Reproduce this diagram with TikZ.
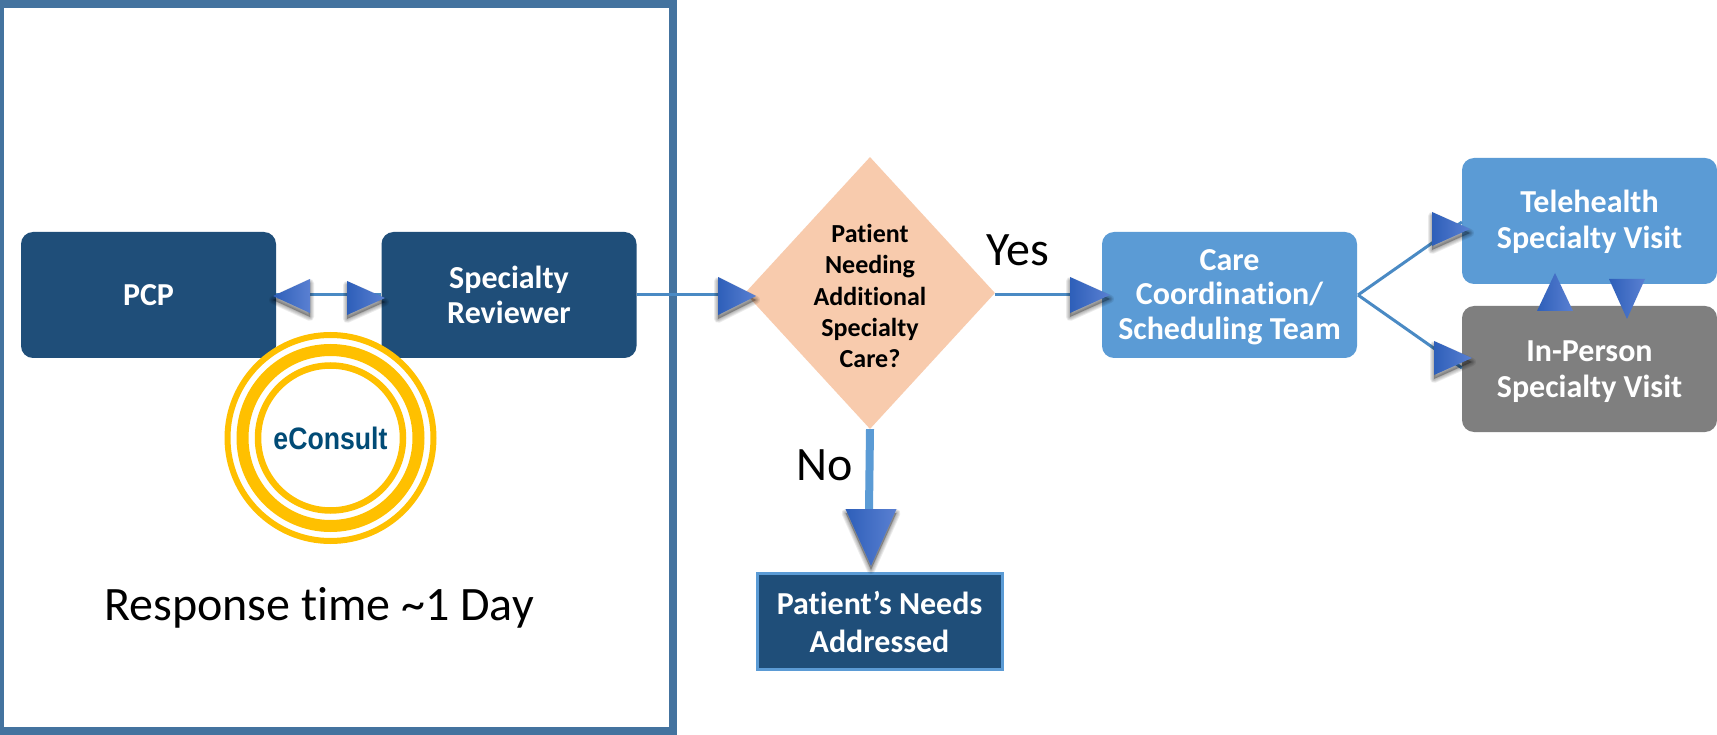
\documentclass[tikz,border=0pt]{standalone}
\usepackage{fontspec}
\setmainfont{Carlito}[Ligatures=NoCommon]
\newfontfamily\arialfont{Liberation Sans}[FakeStretch=0.86]
\usetikzlibrary{shapes.geometric}
\definecolor{navybox}{HTML}{1F4E79}
\definecolor{bluebox}{HTML}{5B9BD5}
\definecolor{greybox}{HTML}{7F7F7F}
\definecolor{peach}{HTML}{F8CBAD}
\definecolor{framecol}{HTML}{44739F}
\definecolor{goldring}{HTML}{FFC000}
\definecolor{linecol}{HTML}{4A8AC4}
\definecolor{tipdark}{HTML}{2E5FB9}
\definecolor{tiplight}{HTML}{5A80D2}
\definecolor{econcol}{HTML}{014B76}
\newcommand{\tipshadow}[4]{% tip, angle, length, half-width
  \foreach \k in {8,6,4,2}{
    \begin{scope}[shift={(#1)},xshift=0pt,yshift=-4pt,rotate=#2]
      \draw[black,opacity=.08,line width=\k pt,line join=round,fill=black]
        (0,0) -- (-#3,#4) -- (-#3,-#4) -- cycle;
    \end{scope}}}
\newcommand{\tipbody}[4]{%
  \begin{scope}[shift={(#1)},rotate=#2]
    \shade[left color=tipdark,right color=tiplight] (0,0) -- (-#3,#4) -- (-#3,-#4) -- cycle;
  \end{scope}}
\tikzset{
  x=1pt,y=-1pt,
  boxbase/.style={rounded corners=12pt,minimum width=255pt,minimum height=126pt,inner sep=0pt,
    text=white,align=center,font=\fontsize{32}{36}\selectfont\bfseries},
  navy/.style={boxbase,fill=navybox},
  lightblue/.style={boxbase,fill=bluebox},
  grey/.style={boxbase,fill=greybox},
  boxtext/.style={text=white,align=center,inner sep=0pt,font=\fontsize{32}{36}\selectfont\bfseries},
  conn/.style={draw=linecol,line width=3pt},
  biglabel/.style={font=\fontsize{48}{54}\selectfont,text=black,inner sep=0pt},
  ring/.style={draw=goldring,circle,inner sep=0pt}
}
\begin{document}
\begin{tikzpicture}
\useasboundingbox (0,0) rectangle (1717,735);
\fill[white] (0,0) rectangle (1717,735);
\draw[framecol,line width=8pt] (0,4) rectangle (673,731);

% nodes
\node[navy] (pcp) at (148.5,295) {PCP};
\node[navy] (spec) at (509,295) {Specialty\\[-1pt]Reviewer};
\node[diamond,fill=peach,minimum width=250pt,minimum height=272pt,inner sep=0pt,aspect=0.92,
  label={[font=\fontsize{26}{31.4}\selectfont\bfseries,align=center,text=black,yshift=-3pt]center:Patient\\Needing\\Additional\\Specialty\\Care?}]
  (dec) at (870,293) {};
\node[lightblue] (care) at (1229.5,295) {};
\node[boxtext,font=\fontsize{32}{34.5}\selectfont\bfseries] (caretext) at (1229.5,297) {Care\\Coordination/\\Scheduling Team};
\node[lightblue] (tele) at (1589.5,221) {};
\node[boxtext] (teletext) at (1589.5,222) {Telehealth\\Specialty Visit};
\node[grey] (person) at (1589.5,369) {};
\node[boxtext] (persontext) at (1589.5,371.5) {In-Person\\Specialty Visit};
\node[rectangle,fill=navybox,draw=bluebox,line width=3pt,minimum width=245pt,minimum height=96pt,inner sep=0pt,
  text=white,align=center,font=\fontsize{32}{38}\selectfont\bfseries] (needs) at (879.5,621.5) {Patient’s Needs\\Addressed};

% rings
\node[ring,fill=white,line width=6pt,minimum size=206pt] (r1) at (330.5,438) {};
\node[ring,line width=12pt,minimum size=176pt] (r2) at (r1) {};
\node[ring,line width=6.5pt,minimum size=145pt] (r3) at (r1) {};
\node[font=\arialfont\bfseries\fontsize{31}{34}\selectfont,text=econcol,inner sep=0pt] (econ) at (r1) {eConsult};

\node[font=\fontsize{48}{54}\selectfont,inner sep=0pt] (resp) at (319,608) {Response time \textasciitilde1 Day};
\node[biglabel] (yes) at (1018,250) {Yes};
\node[biglabel] (no) at (825,465) {No};

% connectors
\draw[conn] (pcp.east) -- (spec.west);
\draw[conn] (spec.east) -- (spec.east -| dec.west);
\draw[conn] (care.west -| dec.east) -- (care.west);
\draw[draw=bluebox,line width=8pt] (dec.south) -- (869,510);
\coordinate (fork) at (1358,295);
\draw[conn] (fork) -- (1462,222);
\draw[conn] (fork) -- (1462,368);

% arrowheads
\tipshadow{273,296}{180}{37}{17}\tipbody{273,296}{180}{37}{17}
\tipshadow{385,298}{0}{38}{17}\tipbody{385,298}{0}{38}{17}
\tipshadow{756,296}{0}{38}{19}\tipbody{756,296}{0}{38}{19}
\tipshadow{1110,295}{0}{40}{18}\tipbody{1110,295}{0}{40}{18}
\tipshadow{1470,229}{0}{38}{17}\tipbody{1470,229}{0}{38}{17}
\tipshadow{1472,358}{0}{38}{17}\tipbody{1472,358}{0}{38}{17}
\tipshadow{871,566}{-90}{57}{25.5}\tipbody{871,566}{-90}{57}{25.5}
\tipbody{1555,273}{90}{38}{18}
\tipbody{1627,319}{-90}{40}{18}
\end{tikzpicture}
\end{document}
